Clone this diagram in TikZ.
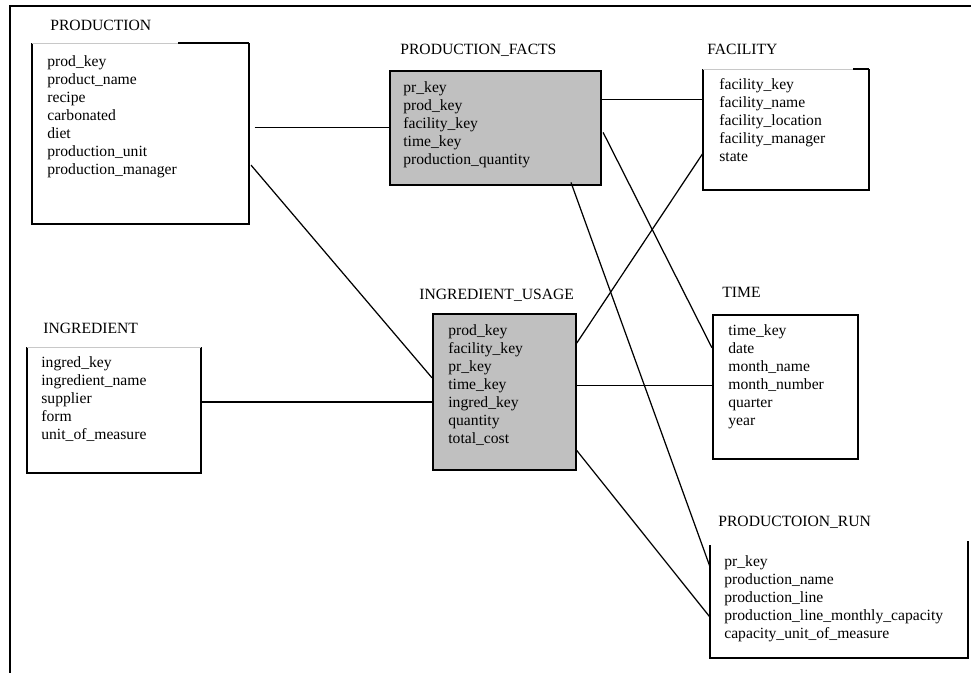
\documentclass[tikz,border=0pt]{standalone}
\usepackage{fontspec}
\setmainfont{Liberation Serif}
\definecolor{factgray}{RGB}{192,192,192}
\definecolor{edgegray}{RGB}{200,200,200}

\tikzset{
	table/.style 2 args={minimum width=#1*0.02cm, minimum height=#2*0.02cm, inner sep=0pt, anchor=north west},
	tablebox/.style={draw, line width=1pt},
	fact/.style={fill=factgray},
	title/.style={anchor=west, inner sep=0pt},
	fields/.style={anchor=north west, align=left, inner sep=0pt},
	link/.style={line width=0.7pt},
	every node/.style={font=\fontsize{8.9}{10.3}\selectfont},
}

\begin{document}
\begin{tikzpicture}[x=0.02cm, y=-0.02cm]
	\useasboundingbox (0,0) rectangle (971,673);
	% frame
	\draw[line width=1.1pt] (10,673) -- (10,6) -- (971,6);

	% dimension tables
	\node[table={216}{180}] (prod) at (32,43) {};
	\node[table={165}{120}] (fac) at (703,69) {};
	\node[table={173}{125}] (ing) at (27,347) {};
	\node[tablebox, table={145}{144}] (time) at (712,314) {};
	\node[table={257}{112}] (run) at (710,545) {};
	% fact tables
	\node[tablebox, fact, table={211}{114}] (facts) at (389,70) {};
	\node[tablebox, fact, table={143}{156}] (usage) at (432,313) {};

	% open / faint tops
	\foreach \t in {prod,fac,ing} {
		\draw[line width=1pt] (\t.north east) -- (\t.south east) -- (\t.south west) -- (\t.north west);
		\draw[edgegray, line width=0.4pt] (\t.north west) -- (\t.north east);
	}
	\draw[line width=1pt] (178,43) -- (prod.north east);
	\draw[line width=1pt] (853,69) -- (fac.north east);
	\draw[line width=1pt] ([yshift=2pt]run.north east) -- (run.south east) -- (run.south west) -- (run.north west);

	% titles
	\node[title] (prodt) at (50,25.5) {PRODUCTION};
	\node[title] (factst) at (400,50.5) {PRODUCTION\_FACTS};
	\node[title] (fact) at (707,49) {FACILITY};
	\node[title] (usaget) at (419,295.5) {INGREDIENT\_USAGE};
	\node[title] (ingt) at (43,328) {INGREDIENT};
	\node[title] (timet) at (722,292) {TIME};
	\node[title] (runt) at (718,522) {PRODUCTOION\_RUN};

	% columns
	\node[fields] (prodf) at (47,54.8) {prod\_key\\product\_name\\recipe\\carbonated\\diet\\production\_unit\\production\_manager};
	\node[fields] (factsf) at (403,80.8) {pr\_key\\prod\_key\\facility\_key\\time\_key\\production\_quantity};
	\node[fields] (facf) at (719,77.8) {facility\_key\\facility\_name\\facility\_location\\facility\_manager\\state};
	\node[fields] (ingf) at (41,355.8) {ingred\_key\\ingredient\_name\\supplier\\form\\unit\_of\_measure};
	\node[fields] (usagef) at (448,323.8) {prod\_key\\facility\_key\\pr\_key\\time\_key\\ingred\_key\\quantity\\total\_cost};
	\node[fields] (timef) at (728,323.8) {time\_key\\date\\month\_name\\month\_number\\quarter\\year};
	\node[fields] (runf) at (724,554.8) {pr\_key\\production\_name\\production\_line\\production\_line\_monthly\_capacity\\capacity\_unit\_of\_measure};

	% links
	\draw[link, shorten <=3.4pt] (prod.east |- facts.west) -- (facts.west);
	\draw[link, shorten <=2pt] (prod.-15.5) -- (usage.169.7);
	\draw[link] (facts.east |- fac.160.6) -- (fac.160.6);
	\draw[link, shorten <=1.7pt] (facts.-1.6) -- (time.152.3);
	\draw[link, shorten <=-2pt] (facts.-37.8) -- (run.165.6);
	\draw[link] (ing.east |- usage.-172) -- (usage.-172);
	\draw[link] (usage.34.4) -- (fac.-164.4);
	\draw[link] (usage.5.6) -- (usage.5.6 -| time.west);
	\draw[link] (usage.-39) -- (run.-173.8);
\end{tikzpicture}
\end{document}
